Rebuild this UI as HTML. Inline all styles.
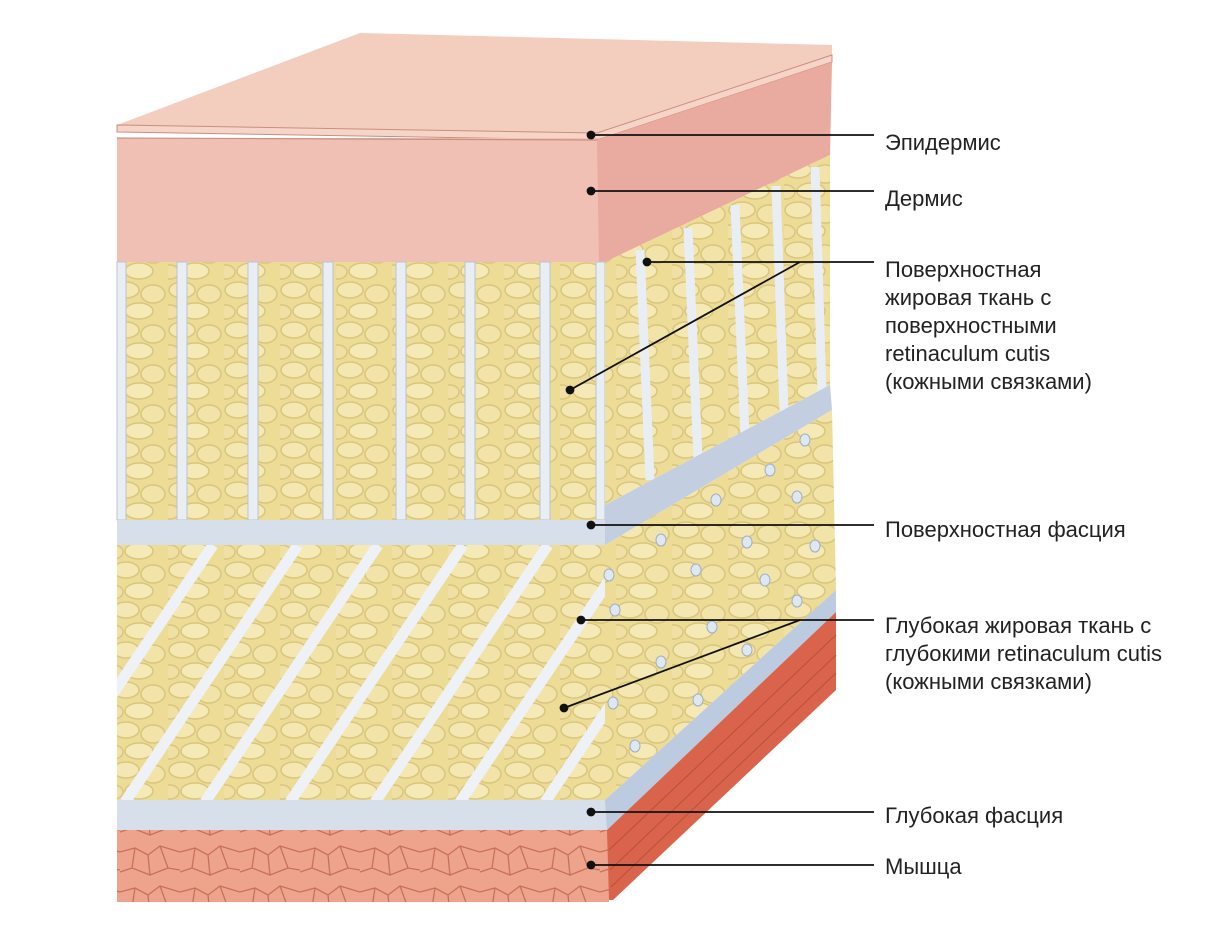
<!DOCTYPE html>
<html><head><meta charset="utf-8"><style>
html,body{margin:0;padding:0;background:#fff;}
svg{display:block}
text{font-family:"Liberation Sans",sans-serif;font-size:22px;fill:#222}
</style></head><body>
<svg width="1220" height="930" viewBox="0 0 1220 930" xmlns="http://www.w3.org/2000/svg">
<defs>
<pattern id="fat" width="56" height="40" patternUnits="userSpaceOnUse">
<rect width="56" height="40" fill="#ecdc96"/>
<ellipse cx="14" cy="10" rx="13" ry="8" fill="#f4e7b2" stroke="#d9c67e" stroke-width="1.5"/>
<ellipse cx="41" cy="14" rx="12" ry="9" fill="#f2e3a8" stroke="#d9c67e" stroke-width="1.5"/>
<ellipse cx="27" cy="31" rx="14" ry="8" fill="#f5e9b6" stroke="#d9c67e" stroke-width="1.5"/>
<ellipse cx="2" cy="32" rx="9" ry="7" fill="#f0e0a4" stroke="#d9c67e" stroke-width="1.5"/>
</pattern>
<pattern id="musc" width="60" height="40" patternUnits="userSpaceOnUse">
<rect width="60" height="40" fill="#eea48c"/>
<path d="M0 12 L15 8 L28 15 L40 6 L60 12 M15 8 L12 28 L30 35 L28 15 M30 35 L48 28 L40 6 M48 28 L60 30 M12 28 L0 32" fill="none" stroke="#c9705a" stroke-width="1.3"/>
</pattern>
<clipPath id="dfront"><rect x="117" y="545" width="490" height="257"/></clipPath>
</defs>

<polygon points="117,125 360,33 832,45 832,55 597,133" fill="#f3cdbd"/>
<polygon points="117,125 597,133 832,55 832,62 597,140 117,132" fill="#f6d5c8" stroke="#c98f7f" stroke-width="1"/>
<rect x="117" y="138" width="482" height="124" fill="#f1c0b4"/>
<line x1="117" y1="138" x2="599" y2="140" stroke="#c98f7f" stroke-width="1.2"/>
<polygon points="597,140 832,62 830,155 605,262 599,262" fill="#e9aaa0"/>
<rect x="117" y="262" width="488" height="258" fill="url(#fat)"/>
<g fill="#e9eef4" stroke="#b9c4d2" stroke-width="1">
<rect x="117" y="262" width="9" height="258"/>
<rect x="177" y="262" width="10" height="258"/>
<rect x="248" y="262" width="10" height="258"/>
<rect x="323" y="262" width="10" height="258"/>
<rect x="396" y="262" width="10" height="258"/>
<rect x="465" y="262" width="10" height="258"/>
<rect x="540" y="262" width="10" height="258"/>
<rect x="596" y="262" width="9" height="258"/>
</g>
<polygon points="605,262 830,155 830,385 605,505" fill="url(#fat)"/>
<g stroke="#e9eef4" stroke-width="9">
<line x1="640" y1="250" x2="650" y2="480"/>
<line x1="688" y1="228" x2="698" y2="460"/>
<line x1="735" y1="205" x2="745" y2="436"/>
<line x1="776" y1="186" x2="784" y2="412"/>
<line x1="815" y1="167" x2="822" y2="392"/>
</g>
<rect x="117" y="520" width="490" height="25" fill="#d6dfea"/>
<polygon points="605,505 830,385 832,410 605,545" fill="#c3cfe0"/>
<rect x="117" y="545" width="490" height="257" fill="url(#fat)"/>
<g clip-path="url(#dfront)" stroke="#eef1f5" stroke-width="11">
<line x1="40" y1="802" x2="213" y2="545"/>
<line x1="125" y1="802" x2="298" y2="545"/>
<line x1="205" y1="802" x2="378" y2="545"/>
<line x1="290" y1="802" x2="463" y2="545"/>
<line x1="375" y1="802" x2="548" y2="545"/>
<line x1="460" y1="802" x2="633" y2="545"/>
<line x1="545" y1="802" x2="718" y2="545"/>
</g>
<polygon points="605,545 832,410 836,590 605,800" fill="url(#fat)"/>
<g fill="#dfe7f0" stroke="#9fb0c6" stroke-width="1">
<ellipse cx="805" cy="440" rx="5" ry="6"/><ellipse cx="770" cy="470" rx="5" ry="6"/>
<ellipse cx="797" cy="497" rx="5" ry="6"/><ellipse cx="716" cy="500" rx="5" ry="6"/>
<ellipse cx="815" cy="546" rx="5" ry="6"/><ellipse cx="747" cy="542" rx="5" ry="6"/>
<ellipse cx="661" cy="540" rx="5" ry="6"/><ellipse cx="765" cy="580" rx="5" ry="6"/>
<ellipse cx="696" cy="570" rx="5" ry="6"/><ellipse cx="797" cy="601" rx="5" ry="6"/>
<ellipse cx="609" cy="575" rx="5" ry="6"/><ellipse cx="615" cy="610" rx="5" ry="6"/>
<ellipse cx="712" cy="627" rx="5" ry="6"/><ellipse cx="747" cy="650" rx="5" ry="6"/>
<ellipse cx="661" cy="662" rx="5" ry="6"/><ellipse cx="698" cy="700" rx="5" ry="6"/>
<ellipse cx="613" cy="703" rx="5" ry="6"/><ellipse cx="635" cy="746" rx="5" ry="6"/>
</g>
<rect x="117" y="800" width="490" height="30" fill="#d6dfea"/>
<polygon points="605,800 836,590 836,612 607,830" fill="#bccbe0"/>
<rect x="117" y="830" width="492" height="72" fill="url(#musc)"/>
<polygon points="607,830 836,612 836,690 613,900 609,900" fill="#d9644b"/>
<g stroke="#b8503c" stroke-width="1">
<line x1="609" y1="850" x2="836" y2="635"/><line x1="610" y1="870" x2="836" y2="655"/><line x1="611" y1="887" x2="836" y2="673"/>
</g>

<g stroke="#111" stroke-width="1.8" fill="#111">
<line x1="591" y1="135" x2="874" y2="135"/><circle cx="591" cy="135" r="3.5"/>
<line x1="591" y1="191" x2="874" y2="191"/><circle cx="591" cy="191" r="3.5"/>
<line x1="647" y1="262" x2="874" y2="262"/><circle cx="647" cy="262" r="3.5"/>
<line x1="570" y1="390" x2="800" y2="262"/><circle cx="570" cy="390" r="3.5"/>
<line x1="591" y1="525" x2="874" y2="525"/><circle cx="591" cy="525" r="3.5"/>
<line x1="581" y1="620" x2="874" y2="620"/><circle cx="581" cy="620" r="3.5"/>
<line x1="564" y1="708" x2="800" y2="620"/><circle cx="564" cy="708" r="3.5"/>
<line x1="591" y1="812" x2="874" y2="812"/><circle cx="591" cy="812" r="3.5"/>
<line x1="591" y1="865" x2="874" y2="865"/><circle cx="591" cy="865" r="3.5"/>
</g>
<text x="885" y="150">Эпидермис</text>
<text x="885" y="206">Дермис</text>
<text x="885" y="277">Поверхностная</text>
<text x="885" y="305">жировая ткань с</text>
<text x="885" y="333">поверхностными</text>
<text x="885" y="361">retinaculum cutis</text>
<text x="885" y="389">(кожными связками)</text>
<text x="885" y="537">Поверхностная фасция</text>
<text x="885" y="633">Глубокая жировая ткань с</text>
<text x="885" y="661">глубокими retinaculum cutis</text>
<text x="885" y="689">(кожными связками)</text>
<text x="885" y="823">Глубокая фасция</text>
<text x="885" y="874">Мышца</text>
</svg>
</body></html>
